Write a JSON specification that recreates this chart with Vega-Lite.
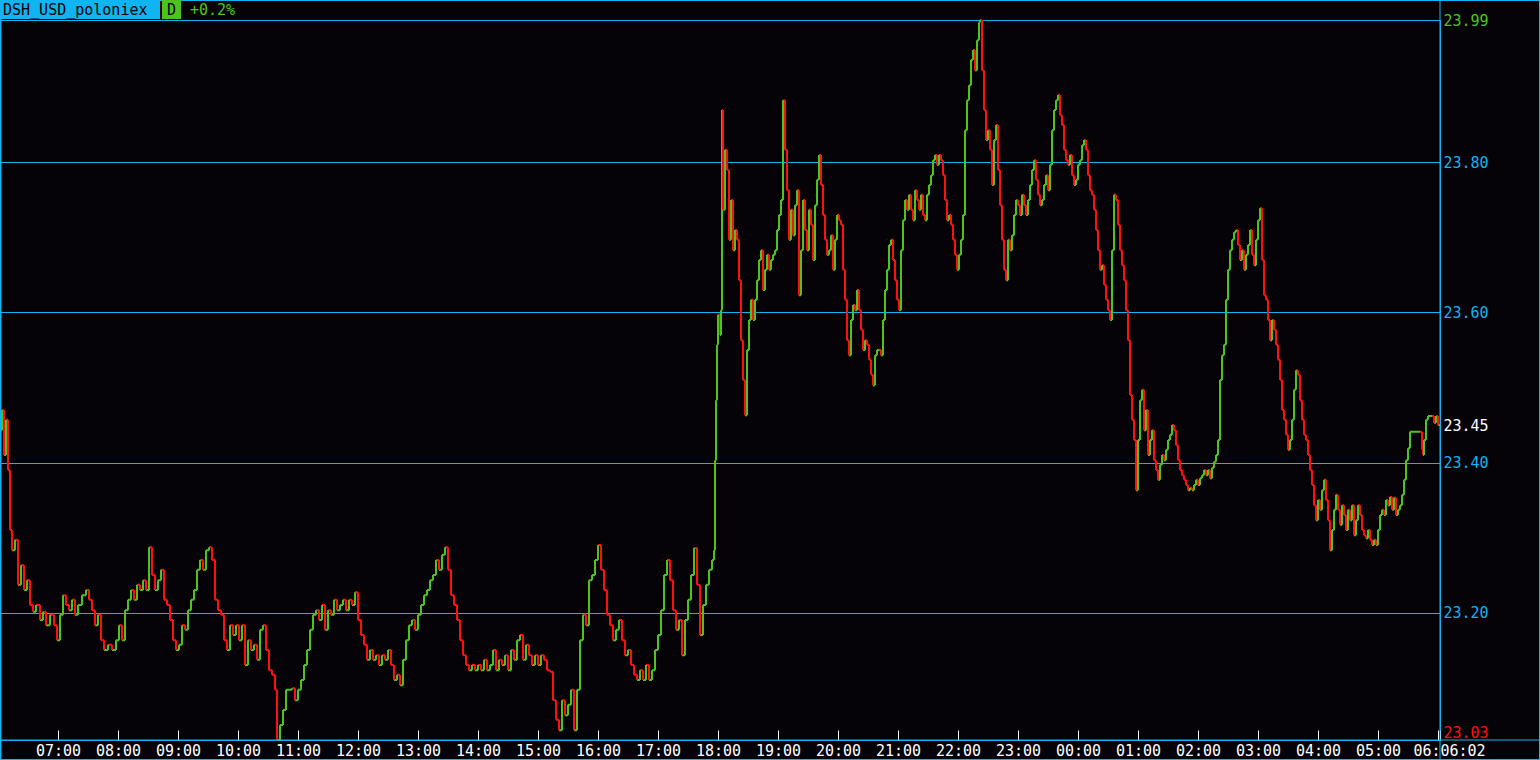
{
"$schema": "https://vega.github.io/schema/vega-lite/v6.json",
"width": 1440, "height": 720,
"autosize": {"type": "none"},
"padding": {"left": 0, "top": 20, "right": 100, "bottom": 20},
"background": "#050308",
"config": {"view": {"stroke": "#10b4f0", "strokeWidth": 1, "fill": "#050308"}, "font": "DejaVu Sans Mono"},
"datasets": {"price": [
{"t":0,"p":23.443},{"t":2,"p":23.47},{"t":4,"p":23.41},{"t":6,"p":23.457},{"t":8,"p":23.39},{"t":10,"p":23.31},{"t":12,"p":23.283},{"t":15,"p":23.297},{"t":18,"p":23.237},{"t":21,"p":23.263},{"t":24,"p":23.23},{"t":27,"p":23.243},{"t":30,"p":23.21},{"t":33,"p":23.201},{"t":36,"p":23.21},{"t":40,"p":23.19},{"t":43,"p":23.201},{"t":46,"p":23.183},{"t":50,"p":23.197},{"t":54,"p":23.183},{"t":57,"p":23.163},{"t":60,"p":23.197},{"t":63,"p":23.223},{"t":66,"p":23.21},{"t":69,"p":23.203},{"t":72,"p":23.217},{"t":75,"p":23.197},{"t":78,"p":23.21},{"t":82,"p":23.223},{"t":86,"p":23.23},{"t":89,"p":23.217},{"t":92,"p":23.203},{"t":95,"p":23.183},{"t":98,"p":23.197},{"t":101,"p":23.163},{"t":104,"p":23.15},{"t":108,"p":23.157},{"t":112,"p":23.15},{"t":116,"p":23.163},{"t":119,"p":23.183},{"t":122,"p":23.163},{"t":125,"p":23.203},{"t":128,"p":23.217},{"t":131,"p":23.23},{"t":134,"p":23.217},{"t":137,"p":23.237},{"t":140,"p":23.23},{"t":143,"p":23.243},{"t":146,"p":23.23},{"t":149,"p":23.287},{"t":152,"p":23.25},{"t":155,"p":23.23},{"t":158,"p":23.243},{"t":161,"p":23.257},{"t":164,"p":23.217},{"t":167,"p":23.21},{"t":170,"p":23.19},{"t":173,"p":23.163},{"t":176,"p":23.15},{"t":179,"p":23.157},{"t":182,"p":23.183},{"t":185,"p":23.177},{"t":188,"p":23.203},{"t":191,"p":23.217},{"t":194,"p":23.23},{"t":197,"p":23.257},{"t":200,"p":23.27},{"t":203,"p":23.257},{"t":206,"p":23.283},{"t":209,"p":23.287},{"t":212,"p":23.27},{"t":215,"p":23.217},{"t":218,"p":23.203},{"t":221,"p":23.197},{"t":224,"p":23.163},{"t":227,"p":23.15},{"t":230,"p":23.183},{"t":233,"p":23.17},{"t":236,"p":23.183},{"t":239,"p":23.163},{"t":242,"p":23.183},{"t":245,"p":23.13},{"t":248,"p":23.163},{"t":251,"p":23.15},{"t":254,"p":23.157},{"t":257,"p":23.137},{"t":260,"p":23.177},{"t":263,"p":23.183},{"t":266,"p":23.15},{"t":269,"p":23.123},{"t":272,"p":23.117},{"t":275,"p":23.097},{"t":277,"p":23.03},{"t":280,"p":23.05},{"t":283,"p":23.07},{"t":286,"p":23.097},{"t":289,"p":23.097},{"t":292,"p":23.099},{"t":295,"p":23.083},{"t":298,"p":23.097},{"t":301,"p":23.11},{"t":304,"p":23.13},{"t":307,"p":23.15},{"t":310,"p":23.177},{"t":313,"p":23.197},{"t":316,"p":23.203},{"t":319,"p":23.19},{"t":322,"p":23.21},{"t":325,"p":23.177},{"t":328,"p":23.203},{"t":331,"p":23.197},{"t":334,"p":23.217},{"t":337,"p":23.203},{"t":340,"p":23.21},{"t":343,"p":23.217},{"t":346,"p":23.203},{"t":349,"p":23.217},{"t":352,"p":23.21},{"t":355,"p":23.227},{"t":358,"p":23.19},{"t":361,"p":23.17},{"t":364,"p":23.157},{"t":367,"p":23.137},{"t":370,"p":23.15},{"t":373,"p":23.137},{"t":376,"p":23.143},{"t":379,"p":23.13},{"t":382,"p":23.143},{"t":385,"p":23.137},{"t":388,"p":23.15},{"t":391,"p":23.13},{"t":394,"p":23.11},{"t":397,"p":23.117},{"t":400,"p":23.103},{"t":403,"p":23.137},{"t":406,"p":23.163},{"t":409,"p":23.183},{"t":412,"p":23.19},{"t":415,"p":23.177},{"t":418,"p":23.197},{"t":421,"p":23.21},{"t":424,"p":23.223},{"t":427,"p":23.23},{"t":430,"p":23.243},{"t":433,"p":23.25},{"t":436,"p":23.27},{"t":439,"p":23.257},{"t":442,"p":23.277},{"t":445,"p":23.287},{"t":448,"p":23.257},{"t":451,"p":23.223},{"t":454,"p":23.21},{"t":457,"p":23.19},{"t":460,"p":23.163},{"t":463,"p":23.143},{"t":466,"p":23.13},{"t":469,"p":23.123},{"t":472,"p":23.13},{"t":475,"p":23.123},{"t":478,"p":23.13},{"t":481,"p":23.123},{"t":484,"p":23.137},{"t":487,"p":23.123},{"t":490,"p":23.13},{"t":493,"p":23.15},{"t":496,"p":23.123},{"t":499,"p":23.137},{"t":502,"p":23.13},{"t":505,"p":23.143},{"t":508,"p":23.123},{"t":511,"p":23.15},{"t":514,"p":23.137},{"t":517,"p":23.163},{"t":520,"p":23.17},{"t":523,"p":23.137},{"t":526,"p":23.157},{"t":529,"p":23.143},{"t":532,"p":23.13},{"t":535,"p":23.143},{"t":538,"p":23.13},{"t":541,"p":23.143},{"t":544,"p":23.137},{"t":547,"p":23.123},{"t":550,"p":23.121},{"t":553,"p":23.083},{"t":556,"p":23.057},{"t":559,"p":23.043},{"t":562,"p":23.083},{"t":565,"p":23.063},{"t":568,"p":23.077},{"t":571,"p":23.097},{"t":574,"p":23.043},{"t":577,"p":23.097},{"t":580,"p":23.163},{"t":583,"p":23.197},{"t":586,"p":23.183},{"t":589,"p":23.243},{"t":592,"p":23.25},{"t":595,"p":23.27},{"t":598,"p":23.29},{"t":601,"p":23.257},{"t":604,"p":23.23},{"t":607,"p":23.197},{"t":610,"p":23.183},{"t":613,"p":23.163},{"t":616,"p":23.177},{"t":619,"p":23.19},{"t":622,"p":23.163},{"t":625,"p":23.143},{"t":628,"p":23.15},{"t":631,"p":23.13},{"t":634,"p":23.117},{"t":637,"p":23.11},{"t":640,"p":23.123},{"t":643,"p":23.11},{"t":646,"p":23.13},{"t":649,"p":23.11},{"t":652,"p":23.123},{"t":655,"p":23.15},{"t":658,"p":23.17},{"t":661,"p":23.203},{"t":664,"p":23.25},{"t":667,"p":23.27},{"t":670,"p":23.243},{"t":673,"p":23.203},{"t":676,"p":23.177},{"t":679,"p":23.19},{"t":682,"p":23.143},{"t":685,"p":23.19},{"t":688,"p":23.217},{"t":691,"p":23.25},{"t":694,"p":23.286},{"t":697,"p":23.237},{"t":700,"p":23.17},{"t":703,"p":23.21},{"t":706,"p":23.237},{"t":709,"p":23.257},{"t":712,"p":23.27},{"t":714,"p":23.283},{"t":715,"p":23.403},{"t":716,"p":23.483},{"t":717,"p":23.557},{"t":718,"p":23.597},{"t":720,"p":23.57},{"t":721,"p":23.603},{"t":722,"p":23.87},{"t":723,"p":23.737},{"t":725,"p":23.817},{"t":727,"p":23.79},{"t":729,"p":23.697},{"t":731,"p":23.75},{"t":733,"p":23.683},{"t":735,"p":23.71},{"t":737,"p":23.697},{"t":739,"p":23.643},{"t":741,"p":23.563},{"t":743,"p":23.51},{"t":745,"p":23.463},{"t":747,"p":23.55},{"t":749,"p":23.59},{"t":751,"p":23.617},{"t":753,"p":23.59},{"t":755,"p":23.617},{"t":757,"p":23.643},{"t":759,"p":23.67},{"t":761,"p":23.683},{"t":763,"p":23.63},{"t":765,"p":23.657},{"t":767,"p":23.677},{"t":769,"p":23.657},{"t":771,"p":23.67},{"t":773,"p":23.677},{"t":775,"p":23.683},{"t":777,"p":23.71},{"t":779,"p":23.73},{"t":781,"p":23.75},{"t":783,"p":23.883},{"t":785,"p":23.817},{"t":787,"p":23.763},{"t":789,"p":23.697},{"t":791,"p":23.737},{"t":793,"p":23.703},{"t":795,"p":23.743},{"t":797,"p":23.763},{"t":799,"p":23.623},{"t":801,"p":23.683},{"t":803,"p":23.75},{"t":805,"p":23.71},{"t":807,"p":23.683},{"t":809,"p":23.737},{"t":811,"p":23.717},{"t":813,"p":23.67},{"t":815,"p":23.743},{"t":817,"p":23.777},{"t":819,"p":23.81},{"t":821,"p":23.77},{"t":823,"p":23.73},{"t":825,"p":23.697},{"t":827,"p":23.677},{"t":829,"p":23.683},{"t":831,"p":23.703},{"t":833,"p":23.657},{"t":835,"p":23.697},{"t":837,"p":23.73},{"t":839,"p":23.723},{"t":841,"p":23.717},{"t":843,"p":23.657},{"t":845,"p":23.617},{"t":847,"p":23.563},{"t":849,"p":23.543},{"t":851,"p":23.59},{"t":853,"p":23.61},{"t":855,"p":23.603},{"t":857,"p":23.63},{"t":859,"p":23.603},{"t":861,"p":23.577},{"t":863,"p":23.55},{"t":865,"p":23.563},{"t":867,"p":23.557},{"t":869,"p":23.537},{"t":871,"p":23.517},{"t":873,"p":23.503},{"t":875,"p":23.543},{"t":877,"p":23.55},{"t":879,"p":23.55},{"t":881,"p":23.543},{"t":883,"p":23.59},{"t":885,"p":23.63},{"t":887,"p":23.657},{"t":889,"p":23.69},{"t":891,"p":23.697},{"t":893,"p":23.67},{"t":895,"p":23.643},{"t":897,"p":23.617},{"t":899,"p":23.603},{"t":901,"p":23.683},{"t":903,"p":23.723},{"t":905,"p":23.75},{"t":907,"p":23.737},{"t":909,"p":23.757},{"t":911,"p":23.737},{"t":913,"p":23.723},{"t":915,"p":23.763},{"t":917,"p":23.75},{"t":919,"p":23.737},{"t":921,"p":23.757},{"t":923,"p":23.73},{"t":925,"p":23.723},{"t":927,"p":23.757},{"t":929,"p":23.77},{"t":931,"p":23.783},{"t":933,"p":23.803},{"t":935,"p":23.81},{"t":937,"p":23.797},{"t":939,"p":23.81},{"t":941,"p":23.803},{"t":943,"p":23.783},{"t":945,"p":23.75},{"t":947,"p":23.723},{"t":949,"p":23.73},{"t":951,"p":23.717},{"t":953,"p":23.697},{"t":955,"p":23.677},{"t":957,"p":23.657},{"t":959,"p":23.677},{"t":961,"p":23.697},{"t":963,"p":23.73},{"t":965,"p":23.843},{"t":967,"p":23.883},{"t":969,"p":23.903},{"t":971,"p":23.937},{"t":973,"p":23.95},{"t":975,"p":23.923},{"t":977,"p":23.963},{"t":979,"p":23.987},{"t":980,"p":23.99},{"t":982,"p":23.923},{"t":984,"p":23.87},{"t":986,"p":23.83},{"t":988,"p":23.843},{"t":990,"p":23.817},{"t":992,"p":23.77},{"t":994,"p":23.83},{"t":996,"p":23.85},{"t":998,"p":23.79},{"t":1000,"p":23.743},{"t":1002,"p":23.697},{"t":1004,"p":23.657},{"t":1006,"p":23.643},{"t":1008,"p":23.697},{"t":1010,"p":23.683},{"t":1012,"p":23.703},{"t":1014,"p":23.73},{"t":1016,"p":23.75},{"t":1018,"p":23.743},{"t":1020,"p":23.73},{"t":1022,"p":23.757},{"t":1024,"p":23.743},{"t":1026,"p":23.73},{"t":1028,"p":23.75},{"t":1030,"p":23.77},{"t":1032,"p":23.79},{"t":1034,"p":23.803},{"t":1036,"p":23.777},{"t":1038,"p":23.757},{"t":1040,"p":23.743},{"t":1042,"p":23.75},{"t":1044,"p":23.77},{"t":1046,"p":23.783},{"t":1048,"p":23.763},{"t":1050,"p":23.797},{"t":1052,"p":23.843},{"t":1054,"p":23.87},{"t":1056,"p":23.883},{"t":1058,"p":23.89},{"t":1060,"p":23.863},{"t":1062,"p":23.85},{"t":1064,"p":23.817},{"t":1066,"p":23.803},{"t":1068,"p":23.797},{"t":1070,"p":23.81},{"t":1072,"p":23.783},{"t":1074,"p":23.77},{"t":1076,"p":23.777},{"t":1078,"p":23.797},{"t":1080,"p":23.803},{"t":1082,"p":23.823},{"t":1084,"p":23.83},{"t":1086,"p":23.817},{"t":1088,"p":23.783},{"t":1090,"p":23.763},{"t":1092,"p":23.757},{"t":1094,"p":23.737},{"t":1096,"p":23.71},{"t":1098,"p":23.683},{"t":1100,"p":23.657},{"t":1102,"p":23.663},{"t":1104,"p":23.637},{"t":1106,"p":23.617},{"t":1108,"p":23.603},{"t":1110,"p":23.59},{"t":1112,"p":23.683},{"t":1114,"p":23.757},{"t":1116,"p":23.75},{"t":1118,"p":23.717},{"t":1120,"p":23.683},{"t":1122,"p":23.663},{"t":1124,"p":23.643},{"t":1126,"p":23.603},{"t":1128,"p":23.563},{"t":1130,"p":23.49},{"t":1132,"p":23.457},{"t":1134,"p":23.43},{"t":1136,"p":23.363},{"t":1138,"p":23.43},{"t":1140,"p":23.483},{"t":1142,"p":23.497},{"t":1144,"p":23.443},{"t":1146,"p":23.47},{"t":1148,"p":23.41},{"t":1150,"p":23.43},{"t":1152,"p":23.443},{"t":1154,"p":23.403},{"t":1156,"p":23.39},{"t":1158,"p":23.377},{"t":1160,"p":23.397},{"t":1162,"p":23.41},{"t":1164,"p":23.403},{"t":1166,"p":23.417},{"t":1168,"p":23.43},{"t":1170,"p":23.437},{"t":1172,"p":23.45},{"t":1174,"p":23.443},{"t":1176,"p":23.423},{"t":1178,"p":23.403},{"t":1180,"p":23.39},{"t":1182,"p":23.383},{"t":1184,"p":23.377},{"t":1186,"p":23.37},{"t":1188,"p":23.363},{"t":1190,"p":23.366},{"t":1192,"p":23.363},{"t":1194,"p":23.37},{"t":1196,"p":23.377},{"t":1198,"p":23.37},{"t":1200,"p":23.379},{"t":1202,"p":23.383},{"t":1204,"p":23.39},{"t":1206,"p":23.383},{"t":1208,"p":23.39},{"t":1210,"p":23.379},{"t":1212,"p":23.393},{"t":1214,"p":23.401},{"t":1216,"p":23.41},{"t":1218,"p":23.43},{"t":1220,"p":23.51},{"t":1222,"p":23.543},{"t":1224,"p":23.557},{"t":1226,"p":23.617},{"t":1228,"p":23.657},{"t":1230,"p":23.683},{"t":1232,"p":23.697},{"t":1234,"p":23.707},{"t":1236,"p":23.71},{"t":1238,"p":23.69},{"t":1240,"p":23.67},{"t":1242,"p":23.683},{"t":1244,"p":23.657},{"t":1246,"p":23.677},{"t":1248,"p":23.69},{"t":1250,"p":23.71},{"t":1252,"p":23.677},{"t":1254,"p":23.663},{"t":1256,"p":23.697},{"t":1258,"p":23.723},{"t":1260,"p":23.739},{"t":1262,"p":23.67},{"t":1264,"p":23.623},{"t":1266,"p":23.617},{"t":1268,"p":23.59},{"t":1270,"p":23.563},{"t":1272,"p":23.59},{"t":1274,"p":23.577},{"t":1276,"p":23.557},{"t":1278,"p":23.537},{"t":1280,"p":23.51},{"t":1282,"p":23.47},{"t":1284,"p":23.457},{"t":1286,"p":23.437},{"t":1288,"p":23.417},{"t":1290,"p":23.43},{"t":1292,"p":23.457},{"t":1294,"p":23.497},{"t":1296,"p":23.523},{"t":1298,"p":23.517},{"t":1300,"p":23.483},{"t":1302,"p":23.457},{"t":1304,"p":23.437},{"t":1306,"p":23.43},{"t":1308,"p":23.41},{"t":1310,"p":23.39},{"t":1312,"p":23.37},{"t":1314,"p":23.343},{"t":1316,"p":23.323},{"t":1318,"p":23.35},{"t":1320,"p":23.337},{"t":1322,"p":23.363},{"t":1324,"p":23.377},{"t":1326,"p":23.35},{"t":1328,"p":23.323},{"t":1330,"p":23.283},{"t":1332,"p":23.31},{"t":1334,"p":23.337},{"t":1336,"p":23.357},{"t":1338,"p":23.337},{"t":1340,"p":23.317},{"t":1342,"p":23.343},{"t":1344,"p":23.33},{"t":1346,"p":23.31},{"t":1348,"p":23.337},{"t":1350,"p":23.323},{"t":1352,"p":23.343},{"t":1354,"p":23.303},{"t":1356,"p":23.323},{"t":1358,"p":23.343},{"t":1360,"p":23.33},{"t":1362,"p":23.31},{"t":1364,"p":23.303},{"t":1366,"p":23.299},{"t":1368,"p":23.31},{"t":1370,"p":23.297},{"t":1372,"p":23.29},{"t":1374,"p":23.297},{"t":1376,"p":23.29},{"t":1378,"p":23.31},{"t":1380,"p":23.33},{"t":1382,"p":23.337},{"t":1384,"p":23.33},{"t":1386,"p":23.35},{"t":1388,"p":23.343},{"t":1390,"p":23.354},{"t":1392,"p":23.337},{"t":1394,"p":23.353},{"t":1396,"p":23.33},{"t":1398,"p":23.337},{"t":1400,"p":23.343},{"t":1402,"p":23.357},{"t":1404,"p":23.377},{"t":1406,"p":23.403},{"t":1408,"p":23.419},{"t":1410,"p":23.441},{"t":1420,"p":23.441},{"t":1422,"p":23.417},{"t":1423,"p":23.41},{"t":1424,"p":23.43},{"t":1426,"p":23.457},{"t":1428,"p":23.462},{"t":1432,"p":23.462},{"t":1434,"p":23.453},{"t":1436,"p":23.462},{"t":1438,"p":23.45},{"t":1440,"p":23.45}
]},
"layer": [
{
"data": {"name": "price"},
"transform": [
{"window": [{"op": "lag", "field": "p", "as": "pp"}, {"op": "lag", "field": "t", "as": "pt"}], "sort": [{"field": "t"}]},
{"filter": "datum.pp != null"}
],
"mark": {"type": "rule", "strokeWidth": 2},
"encoding": {
"x": {"field": "pt", "type": "quantitative", "scale": {"domain": [0, 1440], "nice": false, "zero": false},
"axis": {"title": null, "grid": false, "domain": false, "values": [58,118,178,238,298,358,418,478,538,598,658,718,778,838,898,958,1018,1078,1138,1198,1258,1318,1378,1438,1440],
"labelExpr": "datum.value >= 1440 ? '06:02' : (datum.value == 1438 ? '06:' : ((floor((datum.value+2)/60+6)%24 < 10 ? '0' : '') + (floor((datum.value+2)/60+6)%24) + ':00'))",
"labelAlign": {"condition": [{"test": "datum.value >= 1440", "value": "left"}, {"test": "datum.value == 1438", "value": "right"}], "value": "center"},
"labelOffset": {"condition": {"test": "datum.value == 1438", "value": 2}, "value": 0},
"labelFlush": false, "labelOverlap": false, "labelBound": false,
"labelColor": "#ffffff", "labelFont": "DejaVu Sans Mono", "labelFontSize": 15, "labelBaseline": "middle",
"tickColor": "#ffffff", "tickSize": -10, "tickWidth": 1, "labelPadding": 20}},
"x2": {"field": "t"},
"y": {"field": "pp", "type": "quantitative", "scale": {"domain": [23.03, 23.99], "nice": false, "zero": false},
"axis": {"title": null, "orient": "right", "domain": false, "ticks": false, "tickSize": 0, "labelPadding": 3,
"values": [23.03, 23.2, 23.4, 23.45, 23.6, 23.8, 23.99], "format": ".2f",
"labelFont": "DejaVu Sans Mono", "labelFontSize": 15, "labelOverlap": false, "labelFlush": false, "labelBound": false,
"labelColor": {"condition": [{"test": "datum.value == 23.99", "value": "#4cc41c"}, {"test": "datum.value == 23.03", "value": "#ff1010"}, {"test": "datum.value == 23.45", "value": "#ffffff"}], "value": "#10b4f0"},
"labelBaseline": {"condition": {"test": "datum.value == 23.03", "value": "bottom"}, "value": "middle"},
"grid": true, "gridColor": {"condition": {"test": "datum.value == 23.45", "value": "transparent"}, "value": "#10b4f0"}, "gridWidth": 1, "gridOpacity": 1}},
"color": {"condition": {"test": "datum.p >= datum.pp", "value": "#4cc41c"}, "value": "#ff1010"}
}
},
{
"data": {"name": "price"},
"transform": [
{"window": [{"op": "lag", "field": "p", "as": "pp"}], "sort": [{"field": "t"}]},
{"filter": "datum.pp != null"}
],
"mark": {"type": "rule", "strokeWidth": 2},
"encoding": {
"x": {"field": "t", "type": "quantitative"},
"y": {"field": "pp", "type": "quantitative"},
"y2": {"field": "p"},
"color": {"condition": {"test": "datum.p >= datum.pp", "value": "#4cc41c"}, "value": "#ff1010"}
}
},
{
"data": {"values": [{}]},
"mark": {"type": "rule", "color": "#10b4f0", "strokeWidth": 1},
"encoding": {"x": {"datum": 1440}, "y": {"datum": 24.0167}, "y2": {"datum": 23.0033}}
},
{
"data": {"values": [{}]},
"mark": {"type": "rule", "color": "#10b4f0", "strokeWidth": 1},
"encoding": {"x": {"datum": 0}, "x2": {"datum": 1540}, "y": {"datum": 23.03}}
},
{
"data": {"values": [{}]},
"mark": {"type": "rule", "color": "#10b4f0", "strokeWidth": 1},
"encoding": {"x": {"datum": 0}, "x2": {"datum": 1540}, "y": {"datum": 24.016}}
},
{
"data": {"values": [{}]},
"mark": {"type": "rule", "color": "#10b4f0", "strokeWidth": 1},
"encoding": {"x": {"datum": 0}, "x2": {"datum": 1540}, "y": {"datum": 23.004}}
},
{
"data": {"values": [{}]},
"mark": {"type": "rule", "color": "#10b4f0", "strokeWidth": 1},
"encoding": {"x": {"datum": 1539.5}, "y": {"datum": 24.0167}, "y2": {"datum": 23.0033}}
},
{
"data": {"values": [{}]},
"mark": {"type": "rule", "color": "#10b4f0", "strokeWidth": 2},
"encoding": {"x": {"datum": 0.5}, "y": {"datum": 24.0167}, "y2": {"datum": 23.0033}}
},
{
"data": {"values": [{}]},
"mark": {"type": "rect", "color": "#10b4f0"},
"encoding": {"x": {"datum": 0}, "x2": {"datum": 160}, "y": {"datum": 24.0167}, "y2": {"datum": 23.9913}}
},
{
"data": {"values": [{}]},
"mark": {"type": "rect", "color": "#4cc41c"},
"encoding": {"x": {"datum": 162}, "x2": {"datum": 181}, "y": {"datum": 24.0167}, "y2": {"datum": 23.9913}}
},
{
"data": {"values": [{"label": "DSH_USD_poloniex"}]},
"mark": {"type": "text", "align": "left", "baseline": "middle", "font": "DejaVu Sans Mono", "fontSize": 15, "color": "#000000"},
"encoding": {"x": {"datum": 3}, "y": {"datum": 24.004}, "text": {"field": "label"}}
},
{
"data": {"values": [{"label": "D"}]},
"mark": {"type": "text", "align": "center", "baseline": "middle", "font": "DejaVu Sans Mono", "fontSize": 15, "color": "#000000"},
"encoding": {"x": {"datum": 171.5}, "y": {"datum": 24.004}, "text": {"field": "label"}}
},
{
"data": {"values": [{"label": "+0.2%"}]},
"mark": {"type": "text", "align": "left", "baseline": "middle", "font": "DejaVu Sans Mono", "fontSize": 15, "color": "#4cc41c"},
"encoding": {"x": {"datum": 190}, "y": {"datum": 24.004}, "text": {"field": "label"}}
}
]
}
